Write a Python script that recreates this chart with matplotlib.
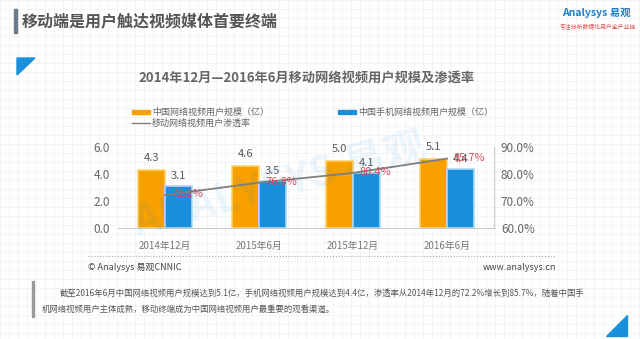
import matplotlib.pyplot as plt
import numpy as np
from matplotlib.patches import Polygon, Rectangle

plt.rcParams['font.family'] = ['Noto Sans CJK SC', 'DejaVu Sans']

categories = ['2014年12月', '2015年6月', '2015年12月', '2016年6月']
total_users = [4.3, 4.6, 5.0, 5.1]
mobile_users = [3.1, 3.5, 4.1, 4.4]
penetration = [72.2, 76.8, 80.4, 85.7]

W, H = 640, 339
orange = '#F7A000'
blue = '#1A8FDB'
grey = '#7f7f7f'
red = '#E0455A'


def px(x, y):
    # pixel position (from top left) -> figure coords
    return x / W, 1 - y / H


fig = plt.figure(figsize=(6.4, 3.39), dpi=100)
fig.patch.set_facecolor('white')

# faint background grid
bg = fig.add_axes([0, 0, 1, 1], zorder=-5)
bg.set_xlim(0, W)
bg.set_ylim(H, 0)
for g in np.arange(0, W, 9):
    bg.axvline(g, color='#f3f3f3', lw=0.6, zorder=0)
for g in np.arange(0, H, 9):
    bg.axhline(g, color='#f3f3f3', lw=0.6, zorder=0)
bg.axis('off')

# decorations
bg.add_patch(Rectangle((14, 9), 2.5, 24, color='#6b7c8f', zorder=5))
bg.add_patch(Polygon([(17, 58), (35, 58), (17, 75)], color='#1a8fdb', zorder=5))
bg.add_patch(Polygon([(627, 315), (627, 336), (606, 336)], color='#1a8fdb', zorder=5))
bg.add_patch(Rectangle((32, 281), 1.5, 36, color='#999999', zorder=5))
bg.plot([88, 556], [256, 256], color='#aaaaaa', lw=0.8, ls=':', zorder=5)

# titles
fig.text(*px(22, 21), '移动端是用户触达视频媒体首要终端', fontsize=11.5,
         fontweight='bold', color='#555555', va='center', ha='left')
fig.text(*px(596, 13), 'Analysys 易观', fontsize=7.5, color='#1a7fd0',
         fontweight='bold', va='center', ha='center')
fig.text(*px(598, 27), '专注分析数据化用户全产业链', fontsize=4.2, color='#d9534f',
         va='center', ha='center', style='italic')
fig.text(*px(307, 78), '2014年12月—2016年6月移动网络视频用户规模及渗透率',
         fontsize=9.5, fontweight='bold', color='#666666', va='center', ha='center')

# legend
bg.add_patch(Rectangle((132, 110), 18, 3.5, color=orange, zorder=5))
fig.text(*px(152, 112), '中国网络视频用户规模（亿）', fontsize=6.5, color='#666666', va='center')
bg.add_patch(Rectangle((338, 110), 18, 3.5, color=blue, zorder=5))
fig.text(*px(358, 112), '中国手机网络视频用户规模（亿）', fontsize=6.5, color='#666666', va='center')
bg.plot([132, 150], [123, 123], color=grey, lw=1, zorder=5)
fig.text(*px(152, 123), '移动网络视频用户渗透率', fontsize=6.5, color='#666666', va='center')

# watermark
fig.text(*px(280, 185), 'ANALYSYS 易观', fontsize=30, color='#1a8fdb', alpha=0.08,
         rotation=15, ha='center', va='center', fontweight='bold')

# main chart
ax = fig.add_axes([118 / W, 1 - 228 / H, 376 / W, 81 / H])
ax.patch.set_alpha(0)
x = np.arange(len(categories))
bw = 0.285
ax.bar(x - bw / 2, total_users, bw, color=orange, edgecolor='#FFD36B', lw=1.2)
ax.bar(x + bw / 2, mobile_users, bw, color=blue, edgecolor='#A8DDF7', lw=1.2)
for i in range(len(x)):
    ax.annotate(f'{total_users[i]:.1f}', (x[i] - bw / 2, total_users[i]),
                xytext=(0, 7), textcoords='offset pixels', ha='center', va='bottom',
                fontsize=8, color='#595959')
    ax.annotate(f'{mobile_users[i]:.1f}', (x[i] + bw / 2, mobile_users[i]),
                xytext=(0, 5), textcoords='offset pixels', ha='center', va='bottom',
                fontsize=8, color='#595959')
ax.set_ylim(0, 6)
ax.set_xlim(-0.5, 3.5)
ax.set_yticks([0, 2, 4, 6])
ax.set_yticklabels(['0.0', '2.0', '4.0', '6.0'])
ax.set_xticks(x)
ax.set_xticklabels(categories)
ax.tick_params(axis='y', length=0, labelsize=8.5, labelcolor='#666666', pad=6)
ax.tick_params(axis='x', length=0, labelsize=7, labelcolor='#777777', pad=9)
for s in ['top', 'right', 'left']:
    ax.spines[s].set_visible(False)
ax.spines['bottom'].set_color('#cccccc')

ax2 = ax.twinx()
ax2.plot(x, penetration, color=grey, lw=1.3)
for i in range(len(x)):
    ax2.annotate(f'{penetration[i]:.1f}%', (x[i], penetration[i]),
                 xytext=(6, 1), textcoords='offset pixels', ha='left', va='center',
                 fontsize=8, color=red)
ax2.set_ylim(60, 90)
ax2.set_yticks([60, 70, 80, 90])
ax2.set_yticklabels(['60.0%', '70.0%', '80.0%', '90.0%'])
ax2.tick_params(axis='y', length=0, labelsize=8.5, labelcolor='#666666', pad=5)
for s in ['top', 'left', 'bottom']:
    ax2.spines[s].set_visible(False)
ax2.spines['right'].set_color('#cccccc')

# footer
fig.text(*px(88, 267), '© Analysys 易观CNNIC', fontsize=6.5, color='#444444', va='center')
fig.text(*px(556, 267), 'www.analysys.cn', fontsize=6.5, color='#444444', va='center', ha='right')
fig.text(*px(60, 293), '截至2016年6月中国网络视频用户规模达到5.1亿，手机网络视频用户规模达到4.4亿，'
         '渗透率从2014年12月的72.2%增长到85.7%，随着中国手', fontsize=6, color='#555555', va='center')
fig.text(*px(42, 309), '机网络视频用户主体成熟，移动终端成为中国网络视频用户最重要的观看渠道。',
         fontsize=6, color='#555555', va='center')

fig.savefig('out.png', dpi=100)
